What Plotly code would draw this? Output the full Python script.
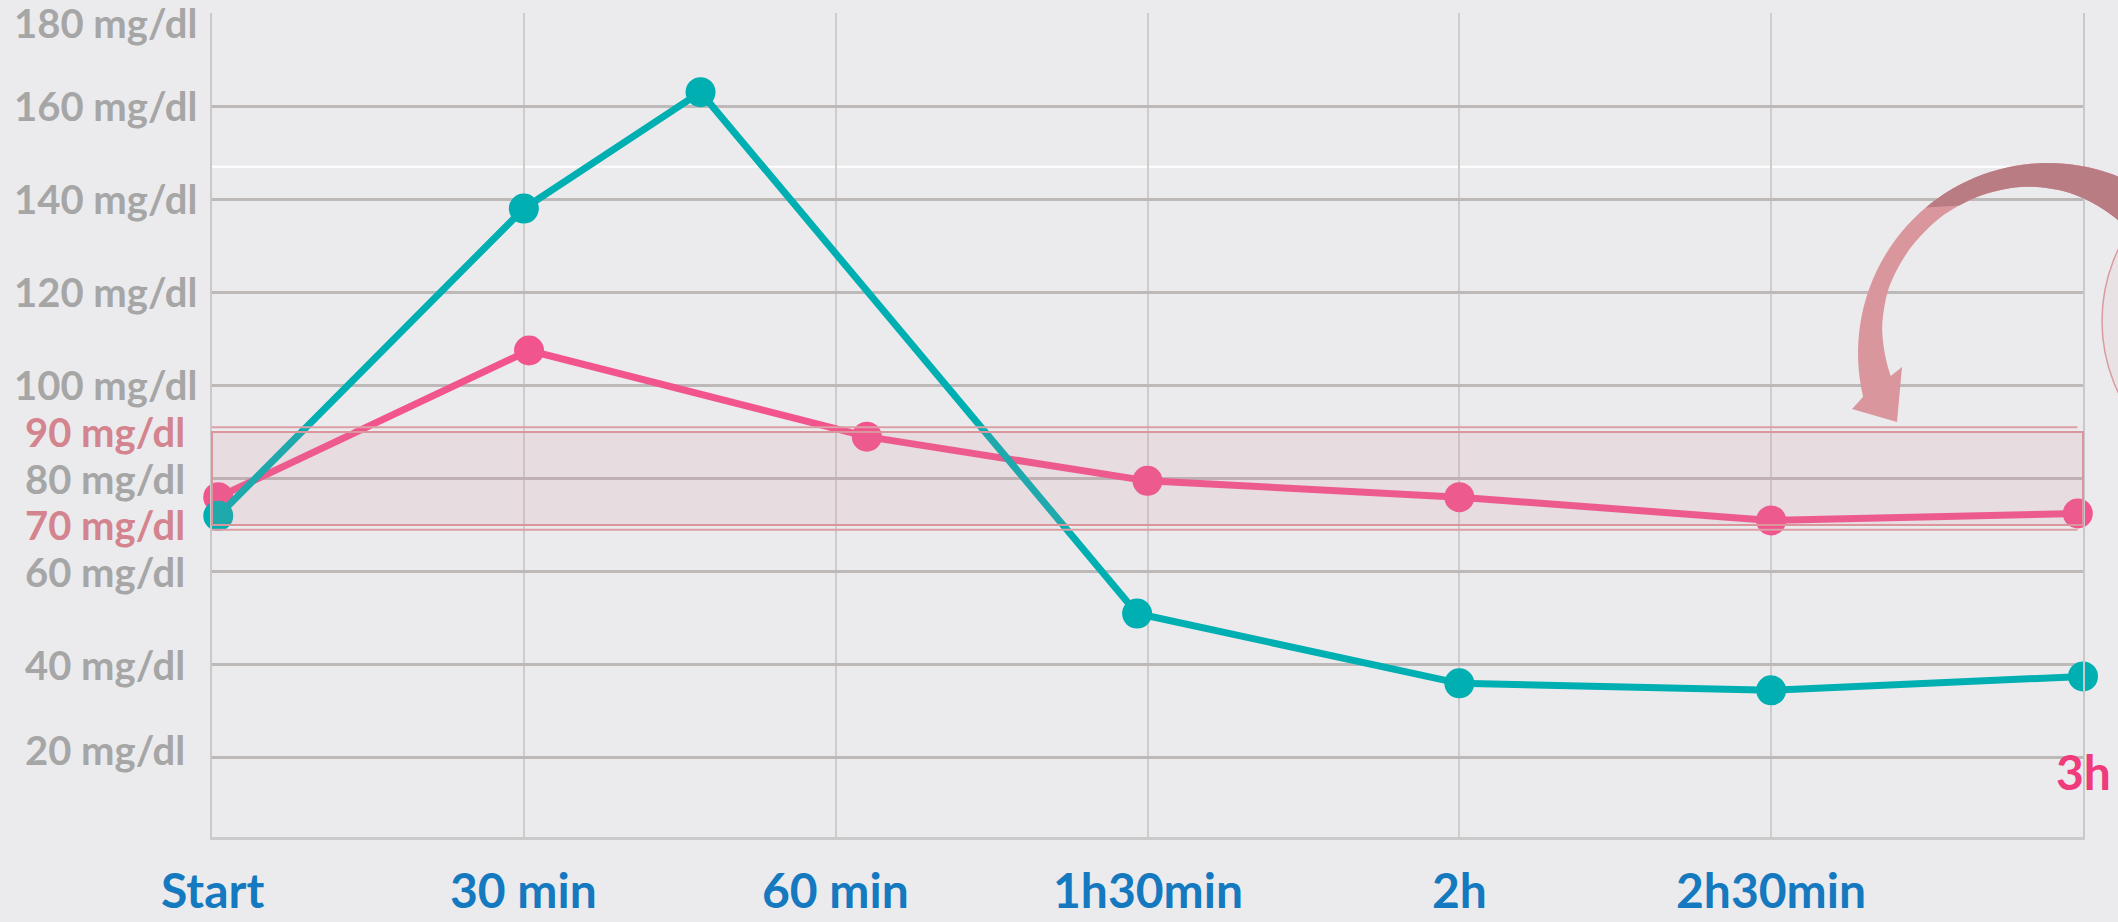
import numpy as np
import plotly.graph_objects as go

# ---- data ---------------------------------------------------------------
# x positions in minutes after the start of the test
time_ticks = [0, 30, 60, 90, 120, 150]
time_labels = ["Start", "30 min", "60 min", "1h30min", "2h", "2h30min"]
end_tick = 180
end_label = "3h"

# teal curve
teal_min = [0.6, 30, 47, 89, 120, 150, 180]
teal_mgdl = [72, 138, 163, 51, 36, 34.5, 37.5]

# pink curve
pink_min = [0.6, 30.5, 63, 90, 120, 150, 179.5]
pink_mgdl = [76, 107.5, 89, 79.5, 76, 71, 72.5]

# y axis labels
grid_mgdl = [20, 40, 60, 80, 100, 120, 140, 160, 180]
band_low, band_high = 70, 90
white_rule_mgdl = 147

# ---- page geometry --------------------------------------------------------
W, H = 2118, 922
ML, MR, MT, MB = 212, 35, 13, 85
PW, PH = W - ML - MR, H - MT - MB

BG = "#ebebed"
TEAL = "#00afb1"
PINK = "#f2548e"
GREY_TXT = "#a6a6a6"
PINK_TXT = "#d4848e"
BLUE_TXT = "#1479bf"
FONT = "Lato"


def to_paper(px, py):
    """Page pixel -> paper fraction."""
    return (px - ML) / PW, (H - MB - py) / PH


def path_from(points):
    parts = []
    for i, (px, py) in enumerate(points):
        x, y = to_paper(px, py)
        parts.append(("M" if i == 0 else "L") + f"{x:.5f},{y:.5f}")
    return " ".join(parts) + " Z"


fig = go.Figure()

fig.add_trace(go.Scatter(
    x=pink_min, y=pink_mgdl, mode="lines+markers",
    line=dict(color=PINK, width=7),
    marker=dict(color=PINK, size=30),
    cliponaxis=False, hoverinfo="skip", showlegend=False,
))
fig.add_trace(go.Scatter(
    x=teal_min, y=teal_mgdl, mode="lines+markers",
    line=dict(color=TEAL, width=7),
    marker=dict(color=TEAL, size=30),
    cliponaxis=False, hoverinfo="skip", showlegend=False,
))

shapes = []

# thin white rule across the upper part of the grid
shapes.append(dict(type="line", xref="paper", yref="y", x0=0, x1=1,
                   y0=white_rule_mgdl, y1=white_rule_mgdl,
                   line=dict(color="white", width=2), layer="between"))

# target band 70-90 mg/dl, double outline
shapes.append(dict(type="rect", xref="paper", yref="y", x0=0, x1=1.0,
                   y0=band_low, y1=band_high,
                   fillcolor="rgba(208,135,150,0.15)",
                   line=dict(color="#da959d", width=2), layer="above"))
for yv in (band_low - 1, band_high + 1):
    shapes.append(dict(type="line", xref="paper", yref="y", x0=0, x1=0.997,
                       y0=yv, y1=yv,
                       line=dict(color="#dc9ea5", width=2), layer="above"))

# partial circle at the right edge of the page
x0c, y1c = to_paper(2102, 155.5)
x1c, y0c = to_paper(2433, 486.5)
shapes.append(dict(type="circle", xref="paper", yref="paper",
                   x0=x0c, x1=x1c, y0=y0c, y1=y1c,
                   fillcolor="rgba(214,150,165,0.10)",
                   line=dict(color="#d99aa1", width=1.5), layer="above"))

# curved pointer arrow
cx, cy, r_out = 2048, 353, 190
w_phi = [58, 62, 83, 98, 112, 127, 143, 158, 171, 188.3]
w_val = [42, 40, 28, 22, 19, 17, 17, 18, 22, 31]


def outer_pts(a0, a1, n=50):
    ph = np.radians(np.linspace(a0, a1, n))
    return [(cx + r_out * np.cos(p), cy - r_out * np.sin(p)) for p in ph]


def inner_pts(a0, a1, n=50):
    ph = np.linspace(a0, a1, n)
    r = r_out - np.interp(ph, w_phi, w_val)
    rad = np.radians(ph)
    return [(cx + ri * np.cos(p), cy - ri * np.sin(p)) for ri, p in zip(r, rad)]


head = [(1852, 409), (1897, 422), (1902, 367)]
arrow_pts = outer_pts(58, 193.3) + head + inner_pts(188.3, 58)
shapes.append(dict(type="path", xref="paper", yref="paper",
                   path=path_from(arrow_pts), fillcolor="#d9969d",
                   line=dict(width=0), layer="above"))
dark_pts = outer_pts(58, 130, 30) + inner_pts(121, 58, 30)
shapes.append(dict(type="path", xref="paper", yref="paper",
                   path=path_from(dark_pts), fillcolor="#b97c83",
                   line=dict(width=0), layer="above"))

annotations = []

# y labels
label_shift = {180: -10, 20: 8}
for v in grid_mgdl + [band_high, band_low]:
    col = PINK_TXT if v in (band_low, band_high) else GREY_TXT
    annotations.append(dict(
        x=to_paper(105, 0)[0], xref="paper", y=v, yref="y",
        text=f"{v} mg/dl", showarrow=False, xanchor="center", yanchor="middle",
        yshift=label_shift.get(v, 0),
        font=dict(family=FONT, size=40, color=col, weight="bold"),
    ))

# time labels below the axis
for t, lab in zip(time_ticks, time_labels):
    annotations.append(dict(
        x=t, xref="x", y=0, yref="paper", text=lab, showarrow=False,
        xanchor="center", yanchor="middle", yshift=-52,
        font=dict(family=FONT, size=48, color=BLUE_TXT, weight="bold"),
    ))
annotations.append(dict(
    x=end_tick, xref="x", y=0, yref="paper", text=end_label, showarrow=False,
    xanchor="center", yanchor="middle", yshift=66,
    font=dict(family=FONT, size=48, color="#ef3a7b", weight="bold"),
))

fig.update_layout(
    width=W, height=H,
    margin=dict(l=ML, r=MR, t=MT, b=MB, pad=0),
    paper_bgcolor=BG, plot_bgcolor=BG,
    showlegend=False,
    shapes=shapes, annotations=annotations,
    xaxis=dict(range=[0, 180], tickvals=[30, 60, 90, 120, 150, 180],
               showticklabels=False, ticks="",
               showgrid=True, gridcolor="#cfcccd", gridwidth=2,
               showline=True, linecolor="#cbcbcb", linewidth=3,
               zeroline=False, fixedrange=True),
    yaxis=dict(range=[3, 180], tickvals=grid_mgdl,
               showticklabels=False, ticks="",
               showgrid=True, gridcolor="#bdb9b9", gridwidth=2.5,
               showline=True, linecolor="#c9c9c9", linewidth=2, mirror=True,
               zeroline=False, fixedrange=True),
)

fig.write_html("out.html", config={"displayModeBar": False})
